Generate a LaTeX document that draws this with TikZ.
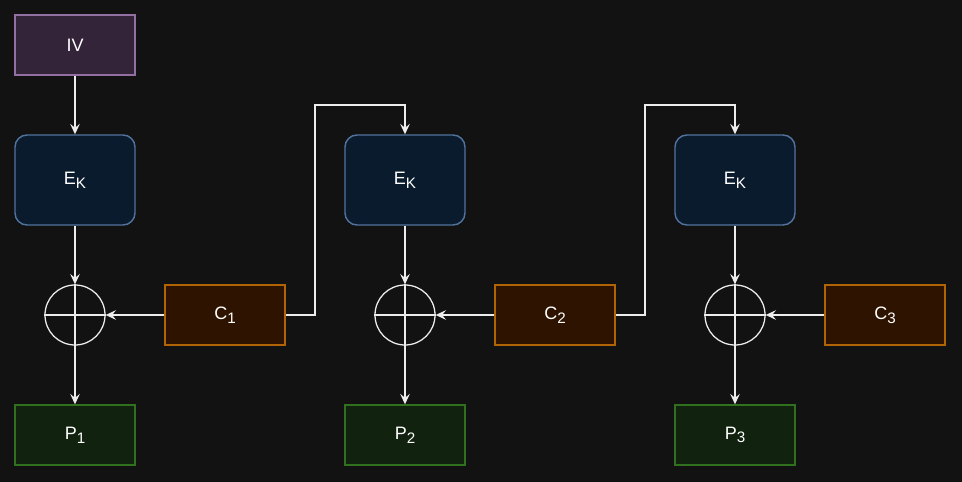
\documentclass[tikz,border=0pt]{standalone}
\usepackage{fontspec}
\setmainfont{Liberation Sans}
\usepackage{xcolor}
\usepackage{tikz}
\usetikzlibrary{arrows.meta, positioning}
\definecolor{bgc}{HTML}{121212}
\definecolor{ivfill}{HTML}{33243A}
\definecolor{ivdraw}{HTML}{9271A2}
\definecolor{ekfill}{HTML}{0B1B2E}
\definecolor{ekdraw}{HTML}{52739F}
\definecolor{cfill}{HTML}{2E1400}
\definecolor{cdraw}{HTML}{B06404}
\definecolor{pfill}{HTML}{11220F}
\definecolor{pdraw}{HTML}{30701E}
\definecolor{wire}{HTML}{EDEDED}
\newcommand{\sbs}[1]{\raisebox{-2.6pt}{\fontsize{10.8}{12}\selectfont #1}}
\tikzset{
    block/.style={minimum width=3cm, minimum height=1.5cm, line width=1pt, text=white, inner sep=0pt},
    ivbox/.style={block, fill=ivfill, draw=ivdraw},
    ekbox/.style={block, minimum height=2.25cm, rounded corners=0.3cm, fill=ekfill, draw=ekdraw},
    cbox/.style={block, fill=cfill, draw=cdraw},
    pbox/.style={block, fill=pfill, draw=pdraw},
    xorc/.style={circle, draw=wire, line width=0.9pt, minimum size=1.5cm, inner sep=0pt},
    conn/.style={-{Stealth[length=2.6mm, width=2.4mm, inset=1mm]}, draw=wire, line width=0.9pt},
    every node/.style={font=\fontsize{12.8}{15}\selectfont}
}

\begin{document}
\begin{tikzpicture}
    % background
    \fill[bgc] (0,0) rectangle (24.05,-12.05);
    \useasboundingbox (0,0) rectangle (24.05,-12.05);
    % blocks
    \node[ivbox] (iv) at (1.875,-1.125) {IV};
    \node[ekbox] (e1) at (1.875,-4.5) {E\sbs{K}};
    \node[ekbox] (e2) at (10.125,-4.5) {E\sbs{K}};
    \node[ekbox] (e3) at (18.375,-4.5) {E\sbs{K}};
    \node[xorc] (x1) at (1.875,-7.875) {};
    \node[xorc] (x2) at (10.125,-7.875) {};
    \node[xorc] (x3) at (18.375,-7.875) {};
    \node[cbox] (c1) at (5.625,-7.875) {C\sbs{1}};
    \node[cbox] (c2) at (13.875,-7.875) {C\sbs{2}};
    \node[cbox] (c3) at (22.125,-7.875) {C\sbs{3}};
    \node[pbox] (p1) at (1.875,-10.875) {P\sbs{1}};
    \node[pbox] (p2) at (10.125,-10.875) {P\sbs{2}};
    \node[pbox] (p3) at (18.375,-10.875) {P\sbs{3}};
    % xor crosses
    \foreach \x in {x1,x2,x3}{
        \draw[wire, line width=0.9pt] (\x.north) -- (\x.south);
        \draw[wire, line width=0.9pt] (\x.west) -- (\x.east);
    }
    % connections
    \coordinate (r1) at (7.875,-2.625);
    \coordinate (r2) at (16.125,-2.625);
    \draw[conn] (iv) -- (e1);
    \foreach \i in {1,2,3}{
        \draw[conn] (e\i) -- (x\i);
        \draw[conn] (x\i) -- (p\i);
        \draw[conn] (c\i) -- (x\i);
    }
    \draw[conn] (c1.east) -| (r1) -| (e2.north);
    \draw[conn] (c2.east) -| (r2) -| (e3.north);
\end{tikzpicture}
\end{document}
